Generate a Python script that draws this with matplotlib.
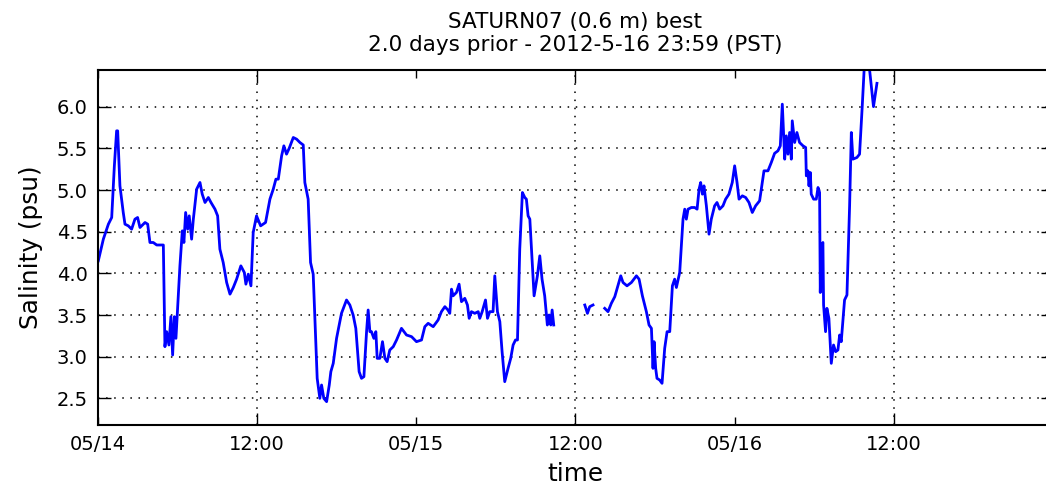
import numpy as np
import pandas as pd
import matplotlib
matplotlib.use("Agg")
import matplotlib.pyplot as plt
import matplotlib.dates as mdates

# Salinity record at SATURN07 (0.6 m), hours after 2012-05-14 00:00 PST
hours = [
    0.06, 0.44, 0.82, 1.07, 1.27, 1.44, 1.52, 1.69, 1.94, 2.07, 2.32, 2.57, 2.82, 3.02,
    3.20, 3.58, 3.78, 3.95, 4.20, 4.46, 4.96, 5.08, 5.21, 5.38, 5.53, 5.66, 5.79, 5.91,
    6.21, 6.39, 6.51, 6.64, 6.79, 6.91, 7.09, 7.22, 7.47, 7.72, 7.89, 8.10, 8.35, 8.55,
    8.85, 9.05, 9.22, 9.47, 9.73, 9.98, 10.23, 10.48, 10.80, 11.06, 11.18, 11.36, 11.56,
    11.73, 11.98, 12.29, 12.66, 12.99, 13.24, 13.44, 13.62, 13.87, 14.04, 14.24, 14.44,
    14.75, 15.00, 15.25, 15.50, 15.62, 15.87, 16.05, 16.25, 16.38, 16.55, 16.75, 16.88,
    17.05, 17.26, 17.46, 17.58, 17.76, 18.01, 18.38, 18.76, 19.01, 19.26, 19.46, 19.71,
    19.89, 20.07, 20.27, 20.39, 20.52, 20.64, 20.82, 20.97, 21.07, 21.27, 21.47, 21.65,
    21.82, 22.02, 22.28, 22.53, 22.90, 23.28, 23.66, 24.03, 24.41, 24.66, 24.91, 25.29,
    25.66, 25.91, 26.17, 26.40, 26.54, 26.67, 26.79, 27.04, 27.24, 27.42, 27.67, 27.87,
    28.00, 28.17, 28.42, 28.68, 28.80, 28.98, 29.23, 29.38, 29.55, 29.80, 29.93, 30.13,
    30.31, 30.48, 30.68, 30.93, 31.13, 31.31, 31.49, 31.64, 31.81, 32.01, 32.19, 32.31,
    32.44, 32.57, 32.74, 32.89, 33.14, 33.32, 33.49, 33.69, 33.89, 34.02, 34.15, 34.25,
    34.37, 35.50,
    36.71, 36.91, 37.08, 37.33, 37.80,
    38.21, 38.46, 38.71, 38.97, 39.17, 39.42, 39.59, 39.89, 40.22, 40.60, 40.80, 41.05,
    41.35, 41.55, 41.73, 41.85, 41.93, 42.05, 42.15, 42.35, 42.53, 42.73, 42.91, 43.11,
    43.31, 43.48, 43.61, 43.86, 44.11, 44.24, 44.36, 44.49, 44.74, 44.99, 45.17, 45.32,
    45.44, 45.57, 45.69, 45.87, 46.07, 46.24, 46.49, 46.67, 46.87, 47.12, 47.32, 47.57,
    47.82, 48.00, 48.18, 48.33, 48.58, 48.83, 49.08, 49.33, 49.58, 49.88, 50.01, 50.21,
    50.51, 50.76, 51.01, 51.26, 51.44, 51.59, 51.77, 51.89, 52.02, 52.14, 52.27, 52.34,
    52.52, 52.69, 52.89, 53.15, 53.35, 53.40, 53.52, 53.60, 53.70, 53.77, 53.95, 54.15,
    54.28, 54.40, 54.45, 54.53, 54.65, 54.70, 54.85, 54.95, 55.10, 55.28, 55.45, 55.61,
    55.78, 55.91, 56.03, 56.28, 56.46, 56.66, 56.79, 56.91, 57.21, 57.41, 57.61, 57.79,
    57.96, 58.16, 58.46, 58.72,
]
salinity = [
    4.15, 4.41, 4.59, 4.67, 5.29, 5.71, 5.71, 5.05, 4.73, 4.59, 4.57, 4.53, 4.65, 4.67,
    4.55, 4.61, 4.59, 4.37, 4.37, 4.34, 4.34, 3.12, 3.30, 3.14, 3.48, 3.02, 3.48, 3.22,
    4.09, 4.51, 4.37, 4.73, 4.53, 4.69, 4.41, 4.65, 5.01, 5.09, 4.95, 4.85, 4.91, 4.85,
    4.77, 4.69, 4.29, 4.13, 3.89, 3.75, 3.83, 3.93, 4.09, 4.01, 3.87, 3.99, 3.85,
    4.49, 4.69, 4.57, 4.61, 4.89, 5.01, 5.13, 5.13, 5.41, 5.53, 5.43, 5.50,
    5.63, 5.61, 5.57, 5.54, 5.09, 4.89, 4.13, 3.99, 3.46, 2.74, 2.50, 2.66,
    2.50, 2.46, 2.66, 2.82, 2.92, 3.22, 3.52, 3.68, 3.62, 3.50, 3.34, 2.82,
    2.74, 2.76, 3.30, 3.56, 3.30, 3.30, 3.22, 3.30, 2.98, 2.98, 3.18, 2.98,
    2.94, 3.08, 3.12, 3.20, 3.34, 3.26, 3.24, 3.18, 3.20, 3.36, 3.40, 3.36,
    3.44, 3.54, 3.60, 3.56, 3.52, 3.81, 3.73, 3.77, 3.87, 3.66, 3.70, 3.62,
    3.46, 3.54, 3.52, 3.54, 3.46, 3.54, 3.68, 3.46, 3.54, 3.54, 3.97, 3.54,
    3.42, 3.06, 2.70, 2.86, 2.98, 3.14, 3.20, 3.20, 4.29, 4.97, 4.91, 4.89,
    4.69, 4.65, 4.17, 3.73, 3.97, 4.21, 3.93, 3.73, 3.38, 3.50, 3.38, 3.56,
    3.38, np.nan,
    3.62, 3.52, 3.60, 3.62, np.nan,
    3.58, 3.54, 3.64, 3.72, 3.83, 3.97, 3.89, 3.85, 3.89, 3.97, 3.93, 3.73,
    3.54, 3.38, 3.34, 2.86, 3.18, 2.86, 2.74, 2.72, 2.68, 3.10, 3.30, 3.30,
    3.85, 3.93, 3.83, 4.01, 4.65, 4.77, 4.65, 4.77, 4.79, 4.79, 4.77, 5.01,
    5.09, 4.95, 5.05, 4.81, 4.47, 4.65, 4.81, 4.85, 4.77, 4.81, 4.89, 4.95,
    5.09, 5.29, 5.09, 4.89, 4.93, 4.91, 4.85, 4.73, 4.81, 4.87, 5.01, 5.23,
    5.23, 5.33, 5.44, 5.47, 5.53, 6.03, 5.37, 5.65, 5.43, 5.69, 5.37, 5.83,
    5.57, 5.69, 5.57, 5.53, 5.51, 5.17, 5.23, 5.05, 5.21, 4.95, 4.89, 4.89,
    5.03, 4.97, 3.77, 4.33, 4.37, 3.62, 3.30, 3.58, 3.46, 2.92, 3.14, 3.06,
    3.08, 3.26, 3.18, 3.68, 3.74, 4.81, 5.69, 5.37, 5.39, 5.43, 6.00, 6.55,
    6.60, 6.45, 6.00, 6.28,
]

y_ticks = [2.5, 3.0, 3.5, 4.0, 4.5, 5.0, 5.5, 6.0]
title_lines = ["SATURN07 (0.6 m) best", "2.0 days prior - 2012-5-16 23:59 (PST)"]

start = pd.Timestamp("2012-05-14 00:00")
end = pd.Timestamp("2012-05-16 23:59")
times = start + pd.to_timedelta(hours, unit="h")

W, H = 1046, 486
fig = plt.figure(figsize=(W / 100, H / 100), dpi=100)
ax_left, ax_right = 97.5, 1053.0
ax_top, ax_bottom = 70.0, 425.0
ax = fig.add_axes([ax_left / W, 1 - ax_bottom / H,
                   (ax_right - ax_left) / W, (ax_bottom - ax_top) / H])

ax.plot(times, salinity, color="#0000ff", lw=2.0, solid_joinstyle="round")

ax.set_xlim(start, end)
ax.set_ylim(2.18, 6.44)
ax.set_yticks(y_ticks)
ax.yaxis.set_major_formatter(matplotlib.ticker.FormatStrFormatter("%.1f"))

ax.xaxis.set_major_locator(mdates.HourLocator(byhour=[12]))
ax.xaxis.set_major_formatter(mdates.DateFormatter("%H:%M"))
ax.xaxis.set_minor_locator(mdates.DayLocator())
ax.xaxis.set_minor_formatter(mdates.DateFormatter("%m/%d"))

ax.grid(True, which="major", color="black", linestyle=(0, (1, 4.3)), lw=1.1)

ax.tick_params(axis="both", which="major", direction="in", length=9, width=1.0,
               top=True, right=True, labelsize=14, pad=7, colors="black")
ax.tick_params(axis="x", which="minor", direction="in", length=5.5, width=1.0,
               top=True, labelsize=14, pad=7)
for s in ax.spines.values():
    s.set_linewidth(1.5)

ax.set_xlabel("time", fontsize=17.8, labelpad=6)
ax.set_ylabel("Salinity (psu)", fontsize=17.8, labelpad=10)
ax.set_title("\n".join(title_lines), fontsize=15.5, linespacing=1.15, pad=14)

fig.savefig("out.png", dpi=100, facecolor="white")
